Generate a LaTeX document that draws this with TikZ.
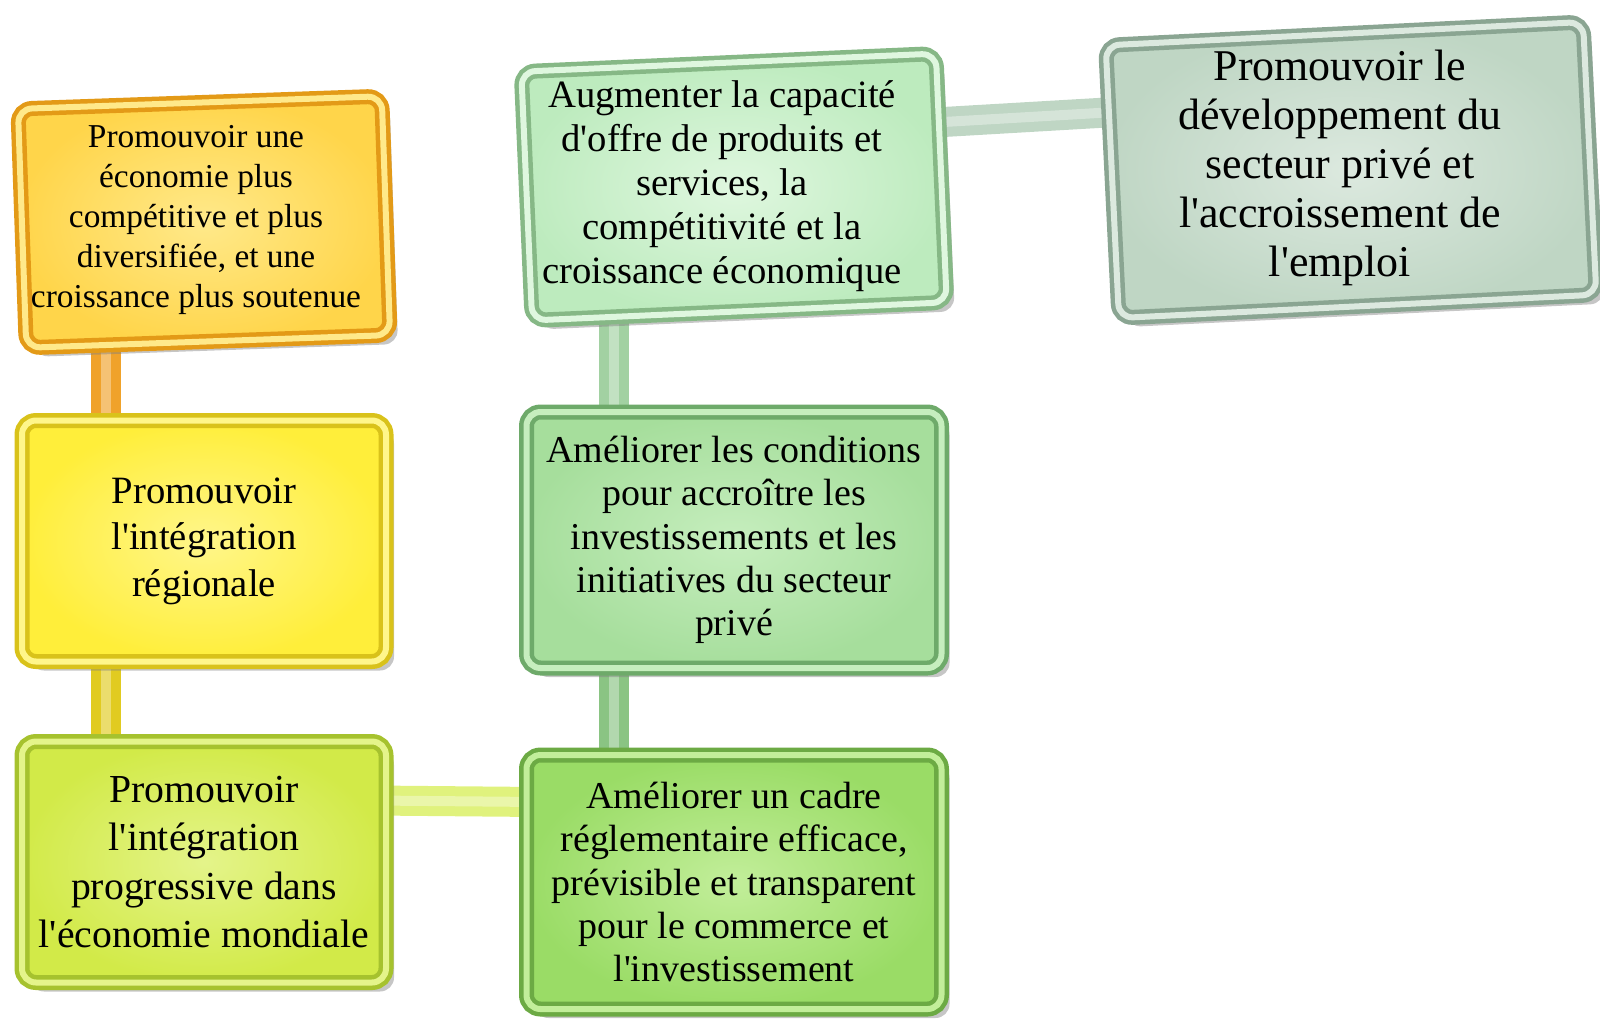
\documentclass[tikz,border=0pt]{standalone}
\usepackage{fontspec}
\setmainfont{Liberation Serif}
\usetikzlibrary{%
  calc,
  shadows,
  backgrounds
}

\newcommand{\sq}{\textquotesingle}

\definecolor{alight}{HTML}{FFE98A}
\definecolor{amid}{HTML}{FFD54A}
\definecolor{aedge}{HTML}{E39A17}
\definecolor{abar}{HTML}{F0A22A}
\definecolor{blight}{HTML}{FFF68A}
\definecolor{bmid}{HTML}{FFEE3A}
\definecolor{bedge}{HTML}{D9C21A}
\definecolor{clight}{HTML}{E4F48A}
\definecolor{cmid}{HTML}{D2EA48}
\definecolor{cedge}{HTML}{A6C22E}
\definecolor{dlight}{HTML}{DFF7DF}
\definecolor{dmid}{HTML}{BDEBBE}
\definecolor{dedge}{HTML}{86B886}
\definecolor{elight}{HTML}{C6EEBE}
\definecolor{emid}{HTML}{A6DE9C}
\definecolor{eedge}{HTML}{6EAA6A}
\definecolor{flight}{HTML}{C2EE9A}
\definecolor{fmid}{HTML}{9ADC66}
\definecolor{fedge}{HTML}{6CAA44}
\definecolor{glight}{HTML}{DCE9DF}
\definecolor{gmid}{HTML}{BFD6C4}
\definecolor{gedge}{HTML}{8AA592}

\tikzset{
  box/.style n args={3}{
    inner color=#1, outer color=#2,
    draw=#3, double=#1, double distance=0.6mm, line width=0.45mm,
    rounded corners=1.4mm, align=center, inner sep=0pt,
    drop shadow={opacity=0.45, shadow xshift=0.8mm, shadow yshift=-0.9mm}},
  boxtext/.style={align=center, inner sep=0pt},
  bar/.style={draw=#1, line width=3mm,
    postaction={draw=white, opacity=0.35, line width=1mm}}
}

\begin{document}
\begin{tikzpicture}[x=0.1mm, y=-0.1mm]
  \useasboundingbox (0,0) rectangle (1600,1026);

  \node[box={alight}{amid}{aedge}, minimum width=36.4mm, minimum height=23.9mm,
        rotate=2] (econ) at (204,222) {};
  \node[boxtext, font=\fontsize{9.5}{11.4}\selectfont] (econtxt) at (196,220)
        {Promouvoir une\\ économie plus\\ compétitive et plus\\ diversifiée, et une\\ croissance plus soutenue};
  \node[box={blight}{bmid}{bedge}, minimum width=36.4mm, minimum height=24.1mm,
        font=\fontsize{11}{13.2}\selectfont] (region) at (204,541)
        {Promouvoir\\ l\sq intégration\\ régionale};
  \node[box={clight}{cmid}{cedge}, minimum width=36.4mm, minimum height=24.1mm,
        font=\fontsize{11.3}{13.7}\selectfont] (monde) at (204,862)
        {Promouvoir\\ l\sq intégration\\ progressive dans\\ l\sq économie mondiale};

  \node[box={dlight}{dmid}{dedge}, minimum width=41.5mm, minimum height=24.9mm,
        rotate=2.5] (offre) at (734,187) {};
  \node[boxtext, font=\fontsize{11}{12.5}\selectfont] (offretxt) at (722,186)
        {Augmenter la capacité\\ d\sq offre de produits et\\ services, la\\ compétitivité et la\\ croissance économique};
  \node[box={elight}{emid}{eedge}, minimum width=41.5mm, minimum height=25.6mm,
        font=\fontsize{10.8}{12.3}\selectfont] (invest) at (734,540)
        {Améliorer les conditions\\ pour accroître les\\ investissements et les\\ initiatives du secteur\\ privé};
  \node[box={flight}{fmid}{fedge}, minimum width=41.5mm, minimum height=25.4mm,
        font=\fontsize{10.8}{12.3}\selectfont] (cadre) at (734,882)
        {Améliorer un cadre\\ réglementaire efficace,\\ prévisible et transparent\\ pour le commerce et\\ l\sq investissement};

  \node[box={glight}{gmid}{gedge}, minimum width=47.8mm, minimum height=27.3mm,
        rotate=2.8] (prive) at (1351,170) {};
  \node[boxtext, font=\fontsize{12.5}{14}\selectfont] (privetxt) at (1340,168)
        {Promouvoir le\\ développement du\\ secteur privé et\\ l\sq accroissement de\\ l\sq emploi};

  \begin{scope}[on background layer]
    \coordinate (ab) at ($(region.north west)!.235!(region.north east)$);
    \coordinate (de) at ($(invest.north west)!.215!(invest.north east)$);
    \draw[bar=abar] (ab) -- (ab |- econ.center);
    \draw[bar=bedge!80!bmid] ($(region.south west)!.235!(region.south east)$)
      -- ($(monde.north west)!.235!(monde.north east)$);
    \draw[bar=clight!80!cmid] ($(monde.north east)!.25!(monde.south east)$)
      -- ($(cadre.north west)!.19!(cadre.south west)$);
    \draw[bar=dedge!50!dmid] (de) -- (de |- offre.center);
    \draw[bar=eedge!50!emid] ($(invest.south west)!.215!(invest.south east)$)
      -- ($(cadre.north west)!.215!(cadre.north east)$);
    \draw[bar=gmid] ($(offre.north east)!.28!(offre.south east)$)
      -- ($(prive.north west)!.25!(prive.south west)$);
  \end{scope}
\end{tikzpicture}
\end{document}
